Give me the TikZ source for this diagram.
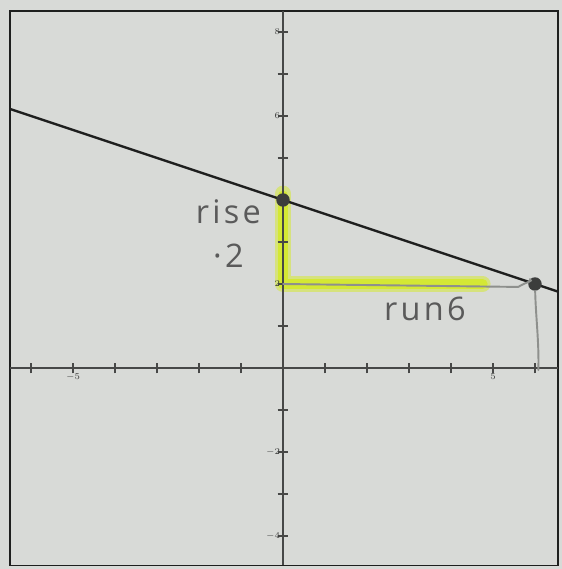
\documentclass[tikz,border=0pt]{standalone}
\usepackage{fontspec}
\newfontfamily\handfont{Open Sans}
\usepackage{tikz}
\usetikzlibrary{positioning,calc}
\definecolor{paper}{HTML}{D8DAD7}
\definecolor{ink}{HTML}{1E1F1E}
\definecolor{axisg}{HTML}{474847}
\definecolor{pencil}{HTML}{8E908D}
\definecolor{hilite}{HTML}{D4E834}
\tikzset{
  axisline/.style={draw=axisg, line width=0.8pt},
  tickmark/.style={draw=axisg, line width=0.9pt},
  ticklbl/.style={font=\fontsize{6.5}{6.5}\selectfont\bfseries, text=axisg!80!black, inner sep=1pt},
  dotpt/.style={circle, fill=axisg!85!black, inner sep=0pt, minimum size=3.2mm},
  glow/.style={draw=hilite, line width=#1, line cap=round, line join=round},
  hand/.style={font=\handfont\addfontfeature{LetterSpace=10}\fontsize{22}{22}\selectfont,
               text=axisg!90!white, inner sep=1pt}
}

\begin{document}
\begin{tikzpicture}
  \useasboundingbox[fill=paper] (-6.738,-4.786) rectangle (6.643,8.762);
  % frame of the printed grid
  \draw[ink, line width=1.1pt] (-6.5,-4.7) rectangle (6.55,8.5);
  % highlighter: rise and run
  \coordinate (corner) at (0,2);
  \coordinate (runend) at (4.75,2);
  \draw[glow=11pt, hilite!55!paper] (0,4.15) -- (corner) -- (runend);
  \draw[glow=7pt] (0,4.1) -- (corner) -- (runend);
  % axes
  \draw[axisline] (-6.5,0) -- (6.55,0);
  \draw[axisline] (0,-4.7) -- (0,8.5);
  \foreach \x in {-6,...,-1,1,2,...,6}
    \draw[tickmark] (\x,-0.13) -- (\x,0.13);
  \foreach \y in {-4,...,-1,1,2,...,8}
    \draw[tickmark] (-0.13,\y) -- (0.13,\y);
  \foreach \y in {8,6,2,-2,-4}
    \node[ticklbl, left=0.3mm of {(0,\y)}] (ylbl\y) {$\y$};
  \foreach \x in {-5,5}
    \node[ticklbl, below=0.9mm of {(\x,0)}] (xlbl\x) {$\x$};
  % the line through the two points
  \coordinate (lstart) at (-6.5,6.167);
  \coordinate (lend) at (6.55,1.817);
  \draw[ink, line width=1.6pt] (lstart) -- (lend);
  \node[dotpt] (yint) at (0,4) {};
  \node[dotpt] (pt) at (6,2) {};
  % pencil marks
  \draw[pencil, line width=1.3pt, line cap=round]
    (corner) -- (5.6,1.93) .. controls (5.85,2.08) and (5.95,2.05) .. (pt);
  \coordinate (foot) at (6.08,-0.05);
  \draw[pencil, line width=1.3pt, line cap=round]
    (pt) .. controls (6.02,1.2) and (6.1,0.6) .. (foot);
  % handwriting
  \node[hand] (rise) at (-1.3,3.72) {rise};
  \node[hand] (risev) at (-1.3,2.68) {·2};
  \node[hand] (run) at (3.38,1.4) {run6};
\end{tikzpicture}
\end{document}
